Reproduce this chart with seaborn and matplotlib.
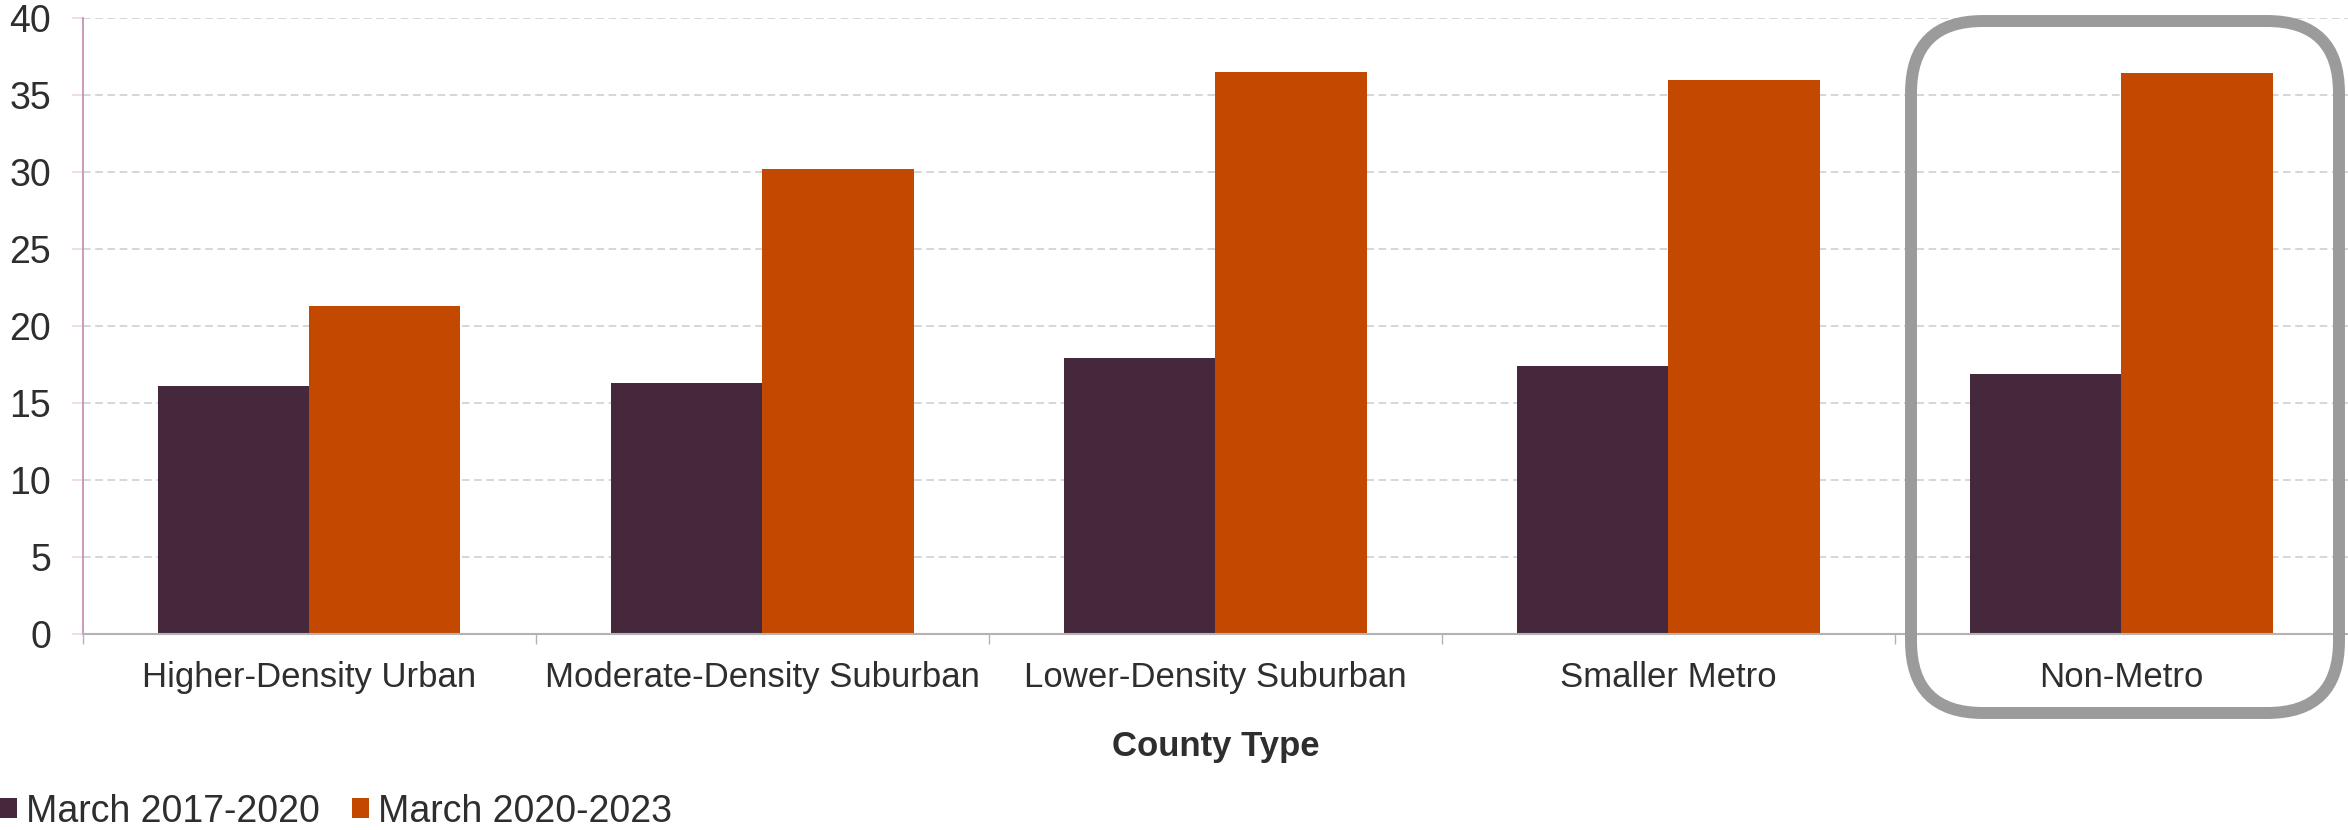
import pandas as pd
import seaborn as sns
import matplotlib.pyplot as plt
from matplotlib.patches import FancyBboxPatch, Patch
from matplotlib.ticker import FixedLocator

# ================= data =================
COUNTY_TYPES = ["Higher-Density Urban", "Moderate-Density Suburban",
                "Lower-Density Suburban", "Smaller Metro", "Non-Metro"]
PERIODS = ["March 2017-2020", "March 2020-2023"]
VALUES_2017_2020 = [16.1, 16.3, 17.9, 17.4, 16.9]
VALUES_2020_2023 = [21.3, 30.2, 36.5, 36.0, 36.4]
Y_TICKS = [0, 5, 10, 15, 20, 25, 30, 35, 40]
COLORS = ["#45283c", "#c44900"]
TEXT_COLOR = "#2e2e2e"
# ========================================

sns.set_theme(style="white")
plt.rcParams['font.family'] = ['Liberation Sans', 'DejaVu Sans']

df = pd.DataFrame({
    "County Type": COUNTY_TYPES * 2,
    "Period": [PERIODS[0]] * len(COUNTY_TYPES) + [PERIODS[1]] * len(COUNTY_TYPES),
    "Value": VALUES_2017_2020 + VALUES_2020_2023,
})

fig = plt.figure(figsize=(23.48, 8.30), dpi=100)
ax = fig.add_axes([0.0353, 0.2365, 0.9647, 0.7418])

sns.barplot(data=df, x="County Type", y="Value", hue="Period",
            palette=COLORS, saturation=1, width=0.667, errorbar=None,
            linewidth=0, legend=False, ax=ax)

ax.set_ylim(0, 40)
ax.set_xlim(-0.5, len(COUNTY_TYPES) - 0.5)
ax.set_yticks(Y_TICKS)
ax.set_yticklabels([str(t) for t in Y_TICKS])

# 网格线
ax.yaxis.grid(True, linestyle=(0, (5, 3)), color="#cccccc", linewidth=1.1)
ax.xaxis.grid(False)
ax.set_axisbelow(True)

# 坐标轴样式
for side in ["top", "right"]:
    ax.spines[side].set_visible(False)
ax.spines["left"].set_color("#c591b3")
ax.spines["left"].set_linewidth(1.3)
ax.spines["bottom"].set_color("#b3b3b3")
ax.spines["bottom"].set_linewidth(1.5)

ax.tick_params(axis="y", which="major", length=8, width=1.1, color="#ecd3e2",
               pad=15, labelsize=27, labelcolor=TEXT_COLOR, left=True)
ax.tick_params(axis="x", which="major", length=0, pad=20,
               labelsize=25, labelcolor=TEXT_COLOR)
ax.xaxis.set_minor_locator(FixedLocator([-0.5, 0.5, 1.5, 2.5, 3.5]))
ax.tick_params(axis="x", which="minor", length=7, width=1.0, color="#b3b3b3",
               bottom=True)

ax.set_ylabel("")
ax.set_xlabel("County Type", fontsize=25, fontweight="bold", color=TEXT_COLOR)
ax.xaxis.set_label_coords(0.5, -0.184)
ax.xaxis.label.set_va("center")

# 图例
handles = [Patch(facecolor=c, edgecolor="none") for c in COLORS]
fig.legend(handles, PERIODS, loc="center left", bbox_to_anchor=(0.0, 0.022),
           ncol=2, frameon=False, fontsize=27, labelcolor=TEXT_COLOR,
           handlelength=0.45, handleheight=0.45, handletextpad=0.25,
           columnspacing=0.85, borderpad=0, borderaxespad=0)

# 高亮 Non-Metro 的圆角框
box = FancyBboxPatch((19.11, 1.17), 4.28, 6.92,
                     boxstyle="round,pad=0,rounding_size=0.72",
                     transform=fig.dpi_scale_trans, facecolor="none",
                     edgecolor="#9b9b9b", linewidth=8.6, clip_on=False)
fig.patches.append(box)

fig.savefig("out.png", dpi=100)
